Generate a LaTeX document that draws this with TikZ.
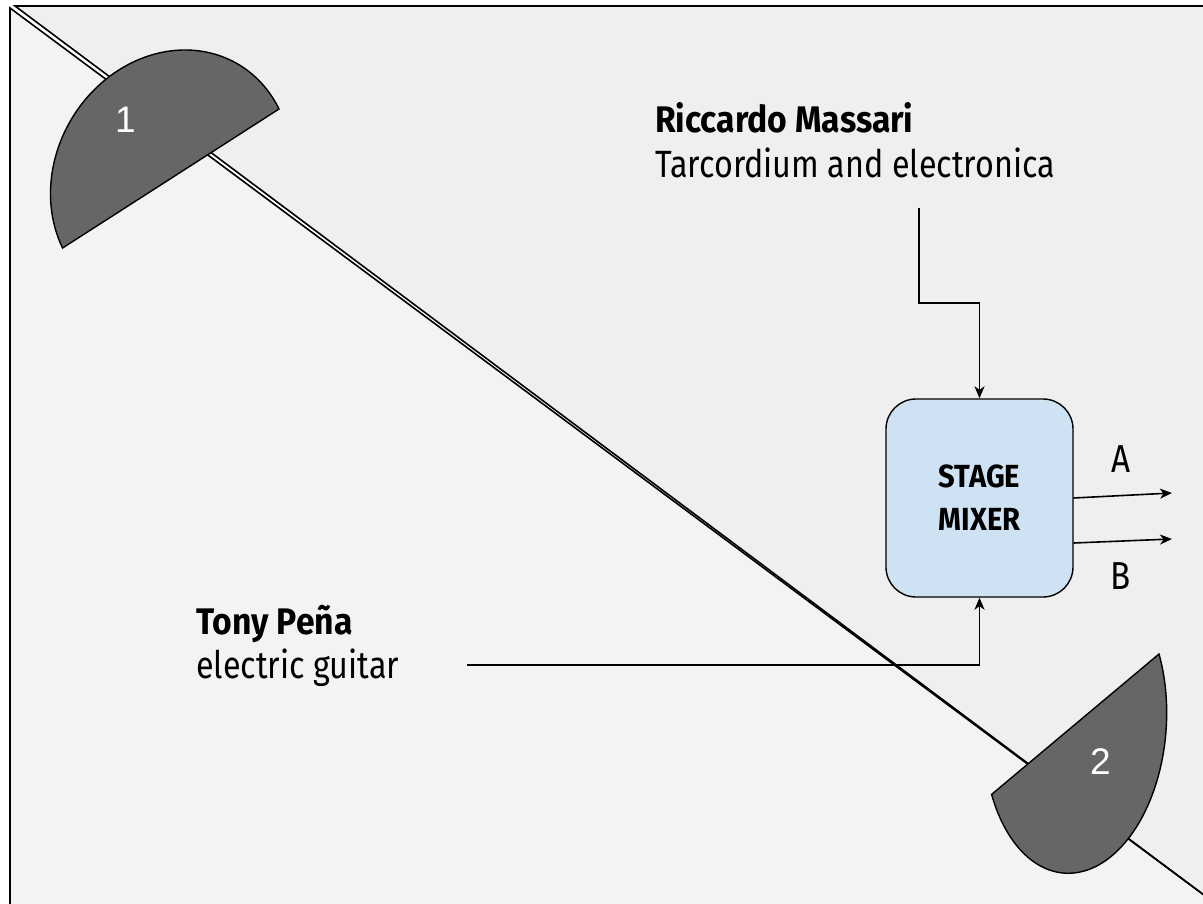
\documentclass[tikz,border=0pt]{standalone}
\usepackage{fontspec}
\setmainfont{Liberation Sans}
\newfontfamily\regf[FakeStretch=0.85]{Fira Sans}
\newfontfamily\bldf[FakeStretch=0.91]{Fira Sans}
\usetikzlibrary{arrows.meta,calc}
\definecolor{bgup}{HTML}{EFEFEF}
\definecolor{bglow}{HTML}{F3F3F3}
\definecolor{diskgray}{HTML}{666666}
\definecolor{mixblue}{HTML}{CFE2F3}
\begin{document}
\begin{tikzpicture}[x=1pt,y=-1pt,
  edge/.style={line width=1.6pt,black},
  conn/.style={line width=1.6pt,black},
  arr/.style={conn,-{Stealth[length=12pt,width=10pt,inset=3.5pt]}},
  disk/.style={fill=diskgray,draw=black,line width=1.4pt,line join=miter},
  digit/.style={text=white,inner sep=0pt,font=\fontsize{37}{37}\selectfont},
  mixer/.style={draw=black,line width=1.4pt,fill=mixblue,rounded corners=30pt,
    minimum width=187pt,minimum height=198pt,align=center,inner sep=0pt,
    font=\bldf\bfseries\fontsize{32}{43}\selectfont},
  boldtext/.style={anchor=base west,inner sep=0pt,font=\bldf\bfseries\fontsize{37}{40}\selectfont},
  regtext/.style={anchor=base west,inner sep=0pt,font=\regf\fontsize{38}{40}\selectfont},
  outlabel/.style={anchor=base,inner sep=0pt,font=\regf\fontsize{39}{40}\selectfont}]
\useasboundingbox (0,0) rectangle (1203,904);
\begin{scope}
  \clip (0,0) rectangle (1203,904);
  \fill[bglow] (10,8) -- (1216,904) -- (10,910) -- cycle;
  \fill[bgup] (15,6) -- (1230,6) -- (1230,904) -- (1216,904) -- cycle;
  \draw[edge] (10,920) -- (10,8) -- (1216,904);
  \draw[edge] (1230,6) -- (15,6) -- (1216,904);
\end{scope}
% half disks
\draw[disk] plot[domain=0:180,samples=120] ({170.8+108.2*cos(\x)-52.6*sin(\x)},{178.5-69.5*cos(\x)-108.1*sin(\x)}) -- cycle;
\draw[disk] plot[domain=0:180,samples=120] ({1075.3+83.7*cos(\x)+36.7*sin(\x)},{724.2-70.2*cos(\x)+131.5*sin(\x)}) -- cycle;
\node[digit] (d1) at (125.5,120) {1};
\node[digit] (d2) at (1100.5,761.5) {2};
% mixer
\node[mixer] (mixer) at (979.5,498) {STAGE\\MIXER};
% texts
\node[boldtext] (rm) at (655,133) {Riccardo Massari};
\node[regtext] (rt) at (655,178) {Tarcordium and electronica};
\node[boldtext] (tp) at (196,634) {Tony Peña};
\node[regtext] (tg) at (196,678) {electric guitar};
% connectors
\coordinate (rstart) at (919,208);
\coordinate (rbend) at (919,303);
\draw[arr] (rstart) -- (rbend) -| (mixer.north);
\coordinate (tstart) at (467,665);
\draw[arr] (tstart) -| (mixer.south);
\coordinate (aend) at (1172,493);
\coordinate (bend) at (1172,539);
\draw[arr] (mixer.east) -- (aend);
\draw[arr] ($(mixer.east)+(0,45)$) -- (bend);
\node[outlabel] (la) at (1121,472) {A};
\node[outlabel] (lb) at (1121,589) {B};
\end{tikzpicture}
\end{document}
